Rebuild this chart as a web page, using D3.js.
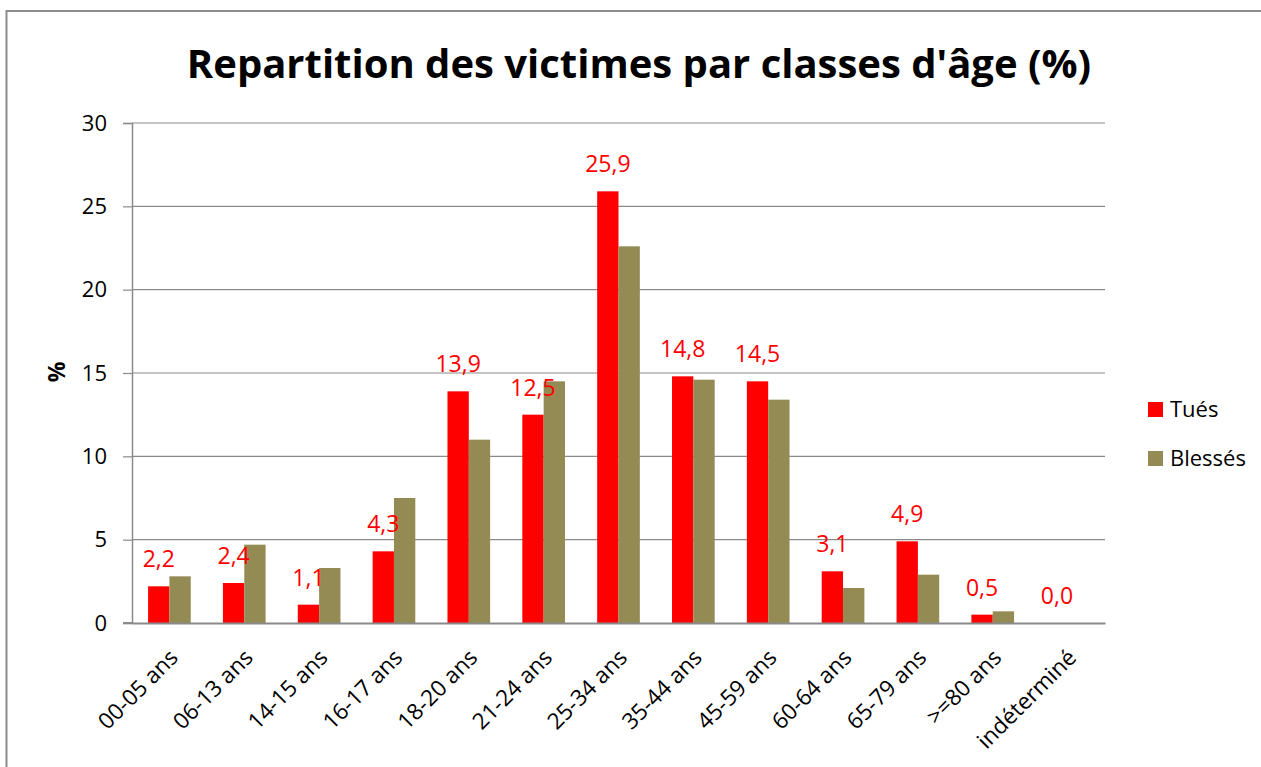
<!DOCTYPE html>
<html>
<head>
<meta charset="utf-8">
<script src="https://cdn.jsdelivr.net/npm/d3@7"></script>
<style>
  body { margin: 0; background: #fff; }
  text { font-family: "Open Sans", sans-serif; }
</style>
</head>
<body>
<script>
// Data
var categories = ["00-05 ans", "06-13 ans", "14-15 ans", "16-17 ans", "18-20 ans", "21-24 ans",
                  "25-34 ans", "35-44 ans", "45-59 ans", "60-64 ans", "65-79 ans", ">=80 ans", "indéterminé"];
var tues    = [2.2, 2.4, 1.1, 4.3, 13.9, 12.5, 25.9, 14.8, 14.5, 3.1, 4.9, 0.5, 0.0];
var blesses = [2.8, 4.7, 3.3, 7.5, 11.0, 14.5, 22.6, 14.6, 13.4, 2.1, 2.9, 0.7, 0.0];
var seriesNames = ["Tués", "Blessés"];
var yTicks = [0, 5, 10, 15, 20, 25, 30];

var colors = { "Tués": "#ff0000", "Blessés": "#948a54" };
var gridColor = "#8a8a8a";

var width = 1261;
var height = 767;
var plotLeft = 132, plotRight = 1105, plotTop = 123, plotBottom = 623;

var svg = d3.select("body")
            .append("svg")
            .attr("width", width)
            .attr("height", height);

// Outer chart border
svg.append("rect")
   .attr("x", 6.5)
   .attr("y", 11)
   .attr("width", 1400)
   .attr("height", 900)
   .attr("fill", "none")
   .attr("stroke", "#8c8c8c")
   .attr("stroke-width", 2);

// Scales
var x0 = d3.scaleBand()
           .domain(categories)
           .range([plotLeft, plotRight])
           .paddingInner(0.43)
           .paddingOuter(0.215);

var x1 = d3.scaleBand()
           .domain(seriesNames)
           .range([0, x0.bandwidth()]);

var y = d3.scaleLinear()
          .domain([0, 30])
          .range([plotBottom, plotTop]);

// Gridlines
svg.append("g")
   .selectAll("line")
   .data(yTicks.filter(function(d) { return d > 0; }))
   .enter()
   .append("line")
   .attr("x1", plotLeft)
   .attr("x2", plotRight)
   .attr("y1", function(d) { return y(d); })
   .attr("y2", function(d) { return y(d); })
   .attr("stroke", gridColor)
   .attr("stroke-width", 1.2);

// Y axis
var yAxis = d3.axisLeft(y)
              .tickValues(yTicks)
              .tickSize(9)
              .tickPadding(16)
              .tickFormat(d3.format("d"));

var gy = svg.append("g")
            .attr("transform", "translate(" + plotLeft + ",0)")
            .call(yAxis);
gy.select(".domain").attr("stroke", gridColor).attr("stroke-width", 1.5);
gy.selectAll(".tick line").attr("stroke", gridColor).attr("stroke-width", 1.2);
gy.selectAll(".tick text")
  .attr("font-family", "Open Sans")
  .attr("font-size", "22px")
  .attr("fill", "#000");

// Bars
var rows = categories.map(function(c, i) {
  return { cat: c, values: [{ s: "Tués", v: tues[i] }, { s: "Blessés", v: blesses[i] }] };
});

var groups = svg.append("g")
                .selectAll("g")
                .data(rows)
                .enter()
                .append("g")
                .attr("transform", function(d) { return "translate(" + x0(d.cat) + ",0)"; });

groups.selectAll("rect")
      .data(function(d) { return d.values; })
      .enter()
      .append("rect")
      .attr("x", function(d) { return x1(d.s); })
      .attr("y", function(d) { return y(d.v); })
      .attr("width", x1.bandwidth())
      .attr("height", function(d) { return y(0) - y(d.v); })
      .attr("fill", function(d) { return colors[d.s]; });

// Data labels for Tués
groups.append("text")
      .attr("x", function(d) { return x1("Tués") + x1.bandwidth() / 2; })
      .attr("y", function(d) { return y(d.values[0].v) - 19; })
      .attr("text-anchor", "middle")
      .attr("font-size", "23px")
      .attr("fill", "#ff0000")
      .text(function(d) { return d3.format(".1f")(d.values[0].v).replace(".", ","); });

// X axis
var xAxis = d3.axisBottom(x0).tickSize(0).tickFormat("");
var gx = svg.append("g")
            .attr("transform", "translate(0," + plotBottom + ")")
            .call(xAxis);
gx.select(".domain").attr("stroke", gridColor).attr("stroke-width", 2);

svg.append("line")
   .attr("x1", plotLeft - 9)
   .attr("x2", plotLeft)
   .attr("y1", plotBottom)
   .attr("y2", plotBottom)
   .attr("stroke", gridColor)
   .attr("stroke-width", 2);

svg.append("g")
   .selectAll("text")
   .data(categories)
   .enter()
   .append("text")
   .attr("transform", function(d) {
     return "translate(" + (x0(d) + x0.bandwidth() / 2 + 10) + "," + (plotBottom + 36) + ") rotate(-45)";
   })
   .attr("text-anchor", "end")
   .attr("font-size", "22.5px")
   .attr("fill", "#000")
   .text(function(d) { return d; });

// Y axis title
svg.append("text")
   .attr("transform", "translate(65,372) rotate(-90)")
   .attr("text-anchor", "middle")
   .attr("font-size", "23px")
   .attr("font-weight", "bold")
   .text("%");

// Title
svg.append("text")
   .attr("x", 639)
   .attr("y", 78)
   .attr("text-anchor", "middle")
   .attr("font-size", "40px")
   .attr("font-weight", "bold")
   .text("Repartition des victimes par classes d'âge (%)");

// Legend
var legend = svg.append("g")
                .selectAll("g")
                .data(seriesNames)
                .enter()
                .append("g")
                .attr("transform", function(d, i) { return "translate(1148," + (402 + i * 49) + ")"; });

legend.append("rect")
      .attr("width", 15)
      .attr("height", 15)
      .attr("fill", function(d) { return colors[d]; });

legend.append("text")
      .attr("x", 22)
      .attr("y", 15)
      .attr("font-size", "22px")
      .attr("fill", "#000")
      .text(function(d) { return d; });
</script>
</body>
</html>
